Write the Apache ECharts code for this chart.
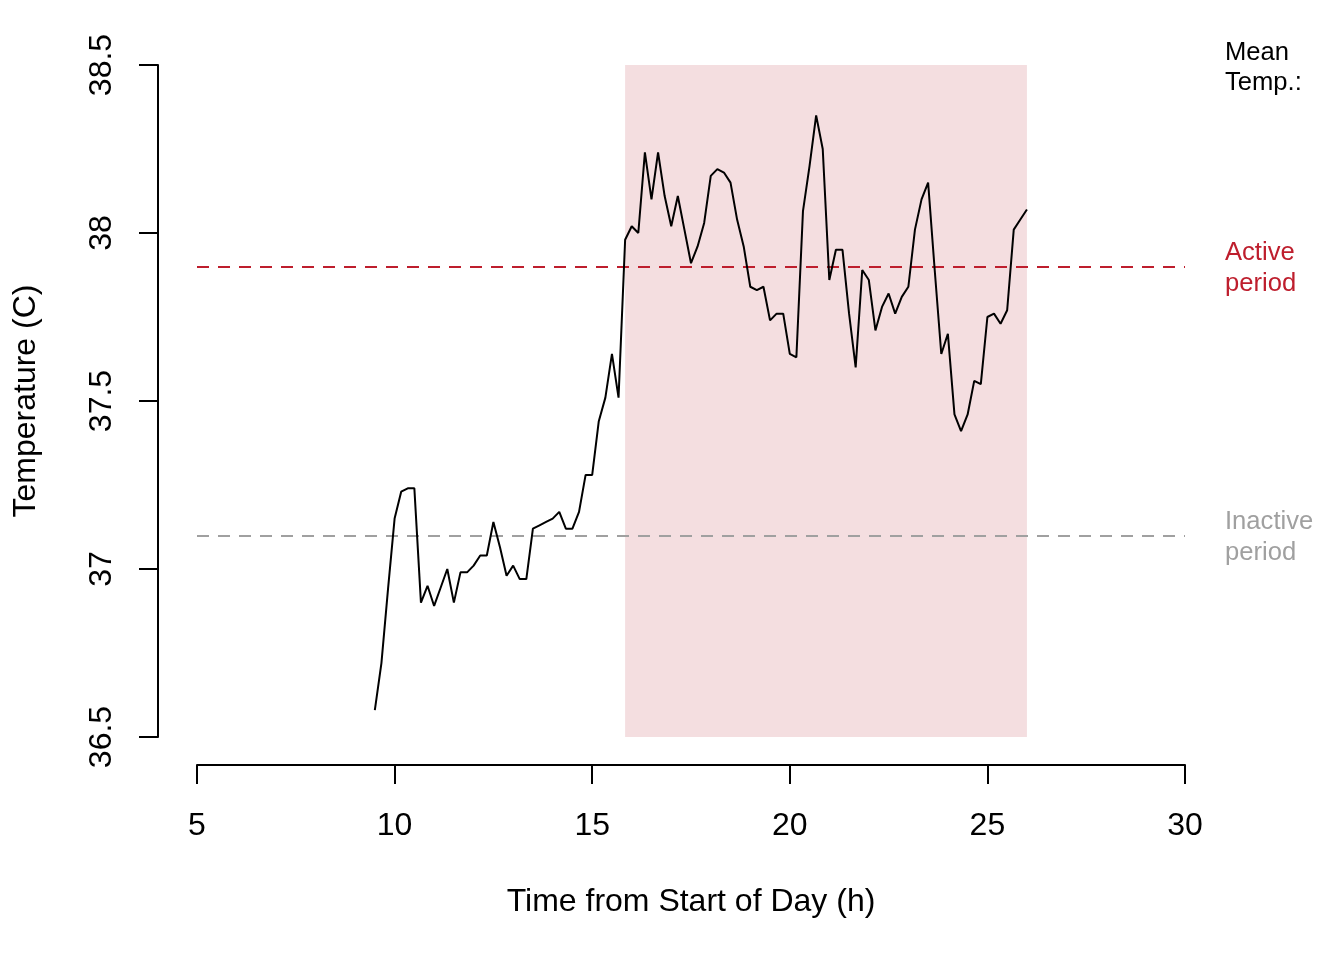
<!DOCTYPE html>
<html>
<head>
<meta charset="utf-8">
<script src="https://cdn.jsdelivr.net/npm/echarts@6/dist/echarts.min.js"></script>
<style>
html,body{margin:0;padding:0;background:#fff;}
#chart{width:1344px;height:960px;}
</style>
</head>
<body>
<div id="chart"></div>
<script>
// Sample times, minutes from start of day
var timesMin = [570,580,590,600,610,620,630,640,650,660,670,680,690,700,710,720,730,740,750,760,
  770,780,790,800,810,820,830,840,850,860,870,880,890,900,910,920,930,940,950,960,
  970,980,990,1000,1010,1020,1030,1040,1050,1060,1070,1080,1090,1100,1110,1120,1130,1140,1150,1160,
  1170,1180,1190,1200,1210,1220,1230,1240,1250,1260,1270,1280,1290,1300,1310,1320,1330,1340,1350,1360,
  1370,1380,1390,1400,1410,1420,1430,1440,1450,1460,1470,1480,1490,1500,1510,1520,1530,1540,1550,1560];
// Temperature (C)
var temps = [36.58,36.72,36.94,37.15,37.23,37.24,37.24,36.90,36.95,36.89,
  36.945,37.00,36.90,36.99,36.99,37.01,37.04,37.04,37.14,37.065,
  36.98,37.01,36.97,36.97,37.12,37.13,37.14,37.15,37.17,37.12,
  37.12,37.17,37.28,37.28,37.44,37.51,37.64,37.51,37.98,38.02,
  38.00,38.24,38.10,38.24,38.11,38.02,38.11,38.01,37.91,37.96,
  38.03,38.17,38.19,38.18,38.15,38.04,37.96,37.84,37.83,37.84,
  37.74,37.76,37.76,37.64,37.63,38.065,38.20,38.35,38.25,37.86,
  37.95,37.95,37.76,37.60,37.89,37.86,37.71,37.78,37.82,37.76,
  37.81,37.84,38.01,38.10,38.15,37.89,37.64,37.70,37.46,37.41,
  37.46,37.56,37.55,37.75,37.76,37.73,37.77,38.01,38.04,38.07];
// Active period (h)
var activeStart = 15.833;
var activeEnd = 26;
// Mean temperatures
var meanActive = 37.9;
var meanInactive = 37.097;
// Axis ticks
var xTicks = [5,10,15,20,25,30];
var yTicks = [36.5,37,37.5,38,38.5];
var yTickLabels = ['36.5','37','37.5','38','38.5'];

var FONT = 'Liberation Sans, Arial, Helvetica, sans-serif';
var RED = '#BE1E2D';
var GRAY = '#A0A0A0';

var lineData = timesMin.map(function(m, i){ return [m/60, temps[i]]; });

var chart = echarts.init(document.getElementById('chart'), null, {renderer:'canvas'});
chart.setOption({
  animation: false,
  backgroundColor: '#ffffff',
  textStyle: {fontFamily: FONT},
  grid: {left: 197, right: 159, top: 65, bottom: 223, containLabel: false},
  xAxis: {
    type: 'value', min: xTicks[0], max: xTicks[xTicks.length-1], interval: 5,
    offset: 28,
    axisLine: {show: true, lineStyle: {color: '#000', width: 2}},
    axisTick: {show: true, length: 19, lineStyle: {color: '#000', width: 2}},
    axisLabel: {fontSize: 32, color: '#000', margin: 45, fontFamily: FONT},
    splitLine: {show: false},
    name: 'Time from Start of Day (h)', nameLocation: 'middle', nameGap: 121,
    nameTextStyle: {fontSize: 32, color: '#000', fontFamily: FONT}
  },
  yAxis: {
    type: 'value', min: yTicks[0], max: yTicks[yTicks.length-1], interval: 0.5,
    offset: 39,
    axisLine: {show: true, lineStyle: {color: '#000', width: 2}},
    axisTick: {show: true, length: 19, lineStyle: {color: '#000', width: 2}},
    axisLabel: {fontSize: 32, color: '#000', margin: 40, rotate: 90, fontFamily: FONT,
      formatter: function(v){ var i = yTicks.indexOf(v); return i >= 0 ? yTickLabels[i] : ''; }},
    splitLine: {show: false},
    name: 'Temperature (C)', nameLocation: 'middle', nameGap: 116, nameRotate: 90,
    nameTextStyle: {fontSize: 32, color: '#000', fontFamily: FONT}
  },
  series: [
    {
      type: 'line', data: [], z: 1, silent: true,
      markArea: {
        silent: true,
        itemStyle: {color: '#F4DEE0', opacity: 1},
        data: [[{xAxis: activeStart, yAxis: yTicks[0]}, {xAxis: activeEnd, yAxis: yTicks[yTicks.length-1]}]]
      },
      markLine: {
        silent: true, symbol: ['none','none'],
        data: [
          {yAxis: meanActive, lineStyle: {color: RED, type: [12,9], width: 2},
            label: {show: true, position: 'end', distance: 40, formatter: 'Active\nperiod', color: RED,
              fontSize: 25.6, lineHeight: 31, align: 'left', offset: [0, 2], fontFamily: FONT}},
          {yAxis: meanInactive, lineStyle: {color: GRAY, type: [12,9], width: 2},
            label: {show: true, position: 'end', distance: 40, formatter: 'Inactive\nperiod', color: GRAY,
              fontSize: 25.6, lineHeight: 31, align: 'left', offset: [0, 2], fontFamily: FONT}}
        ]
      },
      markPoint: {
        silent: true, symbol: 'circle', symbolSize: 0,
        data: [{coord: [xTicks[xTicks.length-1], yTicks[yTicks.length-1]],
          label: {show: true, position: 'right', distance: 40, formatter: 'Mean\nTemp.:', color: '#000',
            fontSize: 25.6, lineHeight: 30, align: 'left', offset: [0, 3], fontFamily: FONT}}]
      }
    },
    {
      type: 'line', data: lineData, z: 5, symbol: 'none', silent: true,
      lineStyle: {color: '#000', width: 2}
    }
  ]
});
</script>
</body>
</html>
